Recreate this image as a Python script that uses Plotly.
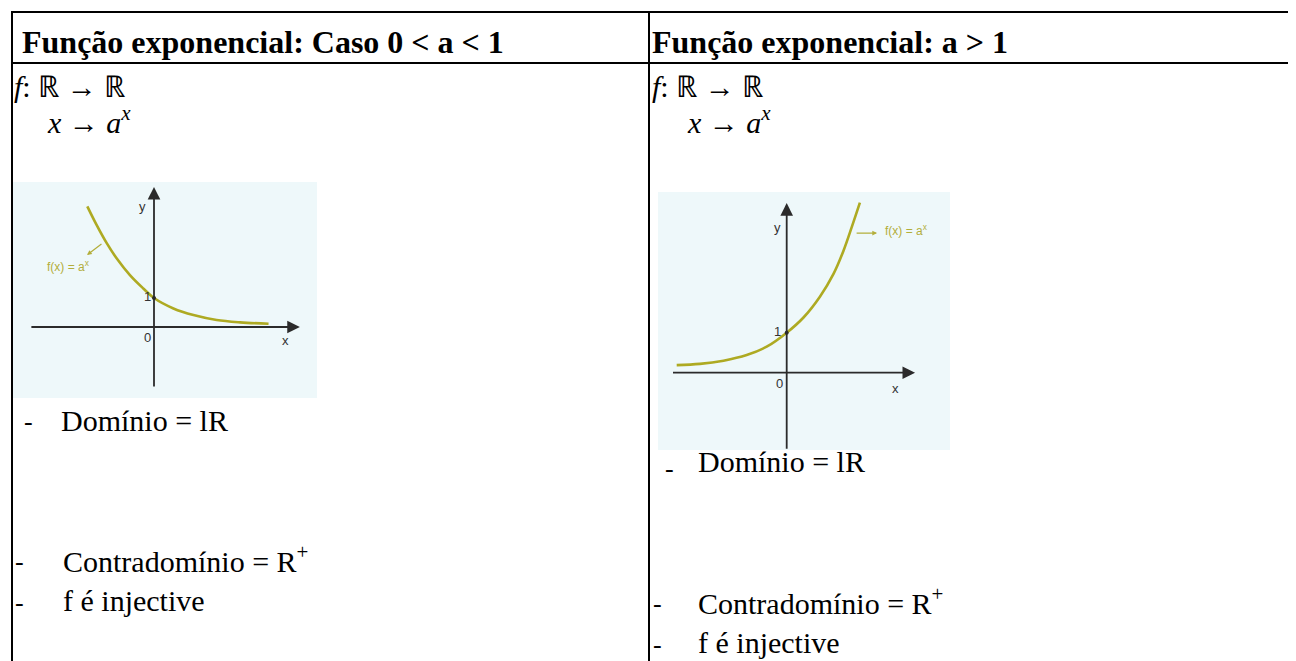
import plotly.graph_objects as go

# a página tem 8 px de margem no body: a figura ocupa o resto da janela
W, H = 1288, 653
OFF = 8

# texto da tabela
headers = ["<b>Função exponencial: Caso 0 &lt; a &lt; 1</b>", "<b>Função exponencial: a &gt; 1</b>"]
map_line = "<i>f</i>: ℝ → ℝ"
rule_line = "<i>x</i> → <i>a<sup>x</sup></i>"
props = ["Domínio = lR", "Contradomínio = R<sup>+</sup>", "f é injective"]

# curva 0 < a < 1
dec_x = [-2.30, -1.98, -1.63, -1.29, -0.83, -0.37, 0.0, 0.67, 1.36, 2.16, 2.97, 3.95]
dec_y = [4.16, 3.52, 2.89, 2.37, 1.79, 1.33, 1.0, 0.64, 0.41, 0.24, 0.16, 0.11]

# curva a > 1
inc_x = [-2.75, -2.17, -1.58, -1.00, -0.50, 0.0, 0.42, 0.83, 1.17, 1.42, 1.63, 1.83]
inc_y = [0.19, 0.22, 0.30, 0.44, 0.65, 1.0, 1.38, 1.90, 2.47, 3.05, 3.65, 4.25]

# extensão dos eixos desenhados
dec_axis_x = [-4.28, 5.03]
dec_axis_y = [-2.10, 4.83]
inc_axis_x = [-2.88, 3.21]
inc_axis_y = [-1.94, 4.24]

curve_color = "#aeaa22"
label_color = "#b3ae3a"
axis_color = "#2b2b2b"
serif = "Liberation Serif"


def px(x):
    return (x - OFF) / W


def py(y):
    return 1 - (y - OFF) / H


fig = go.Figure()
fig.add_trace(go.Scatter(x=dec_x, y=dec_y, mode="lines", line=dict(color=curve_color, width=2.6, shape="spline"),
                         xaxis="x", yaxis="y", hoverinfo="skip"))
fig.add_trace(go.Scatter(x=inc_x, y=inc_y, mode="lines", line=dict(color=curve_color, width=2.6, shape="spline"),
                         xaxis="x2", yaxis="y2", hoverinfo="skip"))
# ponto (0,1)
fig.add_trace(go.Scatter(x=[0], y=[1], mode="markers", marker=dict(color=axis_color, size=4), xaxis="x", yaxis="y"))
fig.add_trace(go.Scatter(x=[0], y=[1], mode="markers", marker=dict(color=axis_color, size=4), xaxis="x2", yaxis="y2"))

ann = []
shapes = []

# linhas da tabela
lw = 2
for yv in [12, 63]:
    shapes.append(dict(type="line", xref="paper", yref="paper", x0=px(11), x1=1, y0=py(yv), y1=py(yv),
                       line=dict(color="black", width=lw)))
for xv in [12, 649]:
    shapes.append(dict(type="line", xref="paper", yref="paper", x0=px(xv), x1=px(xv), y0=py(11), y1=0,
                       line=dict(color="black", width=lw)))


def text(x, y, s, size=30, color="black"):
    ann.append(dict(x=px(x), y=py(y), xref="paper", yref="paper", text=s, showarrow=False,
                    xanchor="left", yanchor="middle", font=dict(family=serif, size=size, color=color)))


# cabeçalho
text(20, 42, headers[0], size=32)
text(650, 42, headers[1], size=32)

# coluna esquerda
text(12, 86, map_line, size=30)
text(45, 120, rule_line, size=30)
text(22, 422, "-", size=26)
text(59, 420, props[0])
text(13, 561, "-", size=26)
text(61, 559, props[1])
text(13, 602, "-", size=26)
text(61, 600, props[2])

# coluna direita
text(650, 86, map_line, size=30)
text(685, 120, rule_line, size=30)
text(663, 468, "-", size=26)
text(696, 461, props[0])
text(651, 603, "-", size=26)
text(696, 601, props[1])
text(651, 644, "-", size=26)
text(696, 642, props[2])

# fundo das imagens dos gráficos
for xr in ["x", "x2"]:
    yr = xr.replace("x", "y")
    shapes.append(dict(type="rect", xref=xr + " domain", yref=yr + " domain", x0=0, x1=1, y0=0, y1=1,
                       fillcolor="#eef8fa", line=dict(width=0), layer="below"))


def arrow_axis(xr, yr, x0, y0, x1, y1):
    ann.append(dict(x=x1, y=y1, ax=x0, ay=y0, xref=xr, yref=yr, axref=xr, ayref=yr, text="",
                    showarrow=True, arrowhead=2, arrowsize=1.4, arrowwidth=1.8, arrowcolor=axis_color))


def glyph(xr, yr, x, y, s, size=13, color="#333333"):
    ann.append(dict(x=x, y=y, xref=xr, yref=yr, text=s, showarrow=False,
                    font=dict(family="Liberation Sans", size=size, color=color)))


arrow_axis("x", "y", dec_axis_x[0], 0, dec_axis_x[1], 0)
arrow_axis("x", "y", 0, dec_axis_y[0], 0, dec_axis_y[1])
arrow_axis("x2", "y2", inc_axis_x[0], 0, inc_axis_x[1], 0)
arrow_axis("x2", "y2", 0, inc_axis_y[0], 0, inc_axis_y[1])

glyph("x", "y", -0.38, 4.14, "y")
glyph("x", "y", 4.52, -0.45, "x")
glyph("x", "y", -0.21, -0.36, "0")
glyph("x", "y", -0.22, 1.05, "1")
glyph("x", "y", -2.95, 2.10, "f(x) = a<sup>x</sup>", size=12, color=label_color)
ann.append(dict(x=-2.31, y=2.48, ax=-1.76, ay=2.9, xref="x", yref="y", axref="x", ayref="y", text="",
                showarrow=True, arrowhead=2, arrowsize=0.8, arrowwidth=1.2, arrowcolor=label_color))

glyph("x2", "y2", -0.24, 3.62, "y")
glyph("x2", "y2", 2.71, -0.40, "x")
glyph("x2", "y2", -0.19, -0.27, "0")
glyph("x2", "y2", -0.22, 1.02, "1")
glyph("x2", "y2", 3.0, 3.57, "f(x) = a<sup>x</sup>", size=12, color=label_color)
ann.append(dict(x=2.26, y=3.49, ax=1.71, ay=3.49, xref="x2", yref="y2", axref="x2", ayref="y2", text="",
                showarrow=True, arrowhead=2, arrowsize=0.8, arrowwidth=1.2, arrowcolor=label_color))

# eixos: 29 px por unidade à esquerda, 40 px à direita
ax_common = dict(visible=False, fixedrange=True)
fig.update_layout(
    width=W, height=H,
    margin=dict(l=0, r=0, t=0, b=0),
    paper_bgcolor="white", plot_bgcolor="rgba(0,0,0,0)",
    showlegend=False,
    xaxis=dict(domain=[px(13), px(317)], range=[(13 - 154) / 29, (317 - 154) / 29], **ax_common),
    yaxis=dict(domain=[py(398), py(182)], range=[(327 - 398) / 29, (327 - 182) / 29], **ax_common),
    xaxis2=dict(domain=[px(658), px(950)], range=[(658 - 786.7) / 40, (950 - 786.7) / 40], anchor="y2", **ax_common),
    yaxis2=dict(domain=[py(450), py(192)], range=[(372.7 - 450) / 40, (372.7 - 192) / 40], anchor="x2", **ax_common),
    shapes=shapes,
    annotations=ann,
)

fig.write_html("out.html")
